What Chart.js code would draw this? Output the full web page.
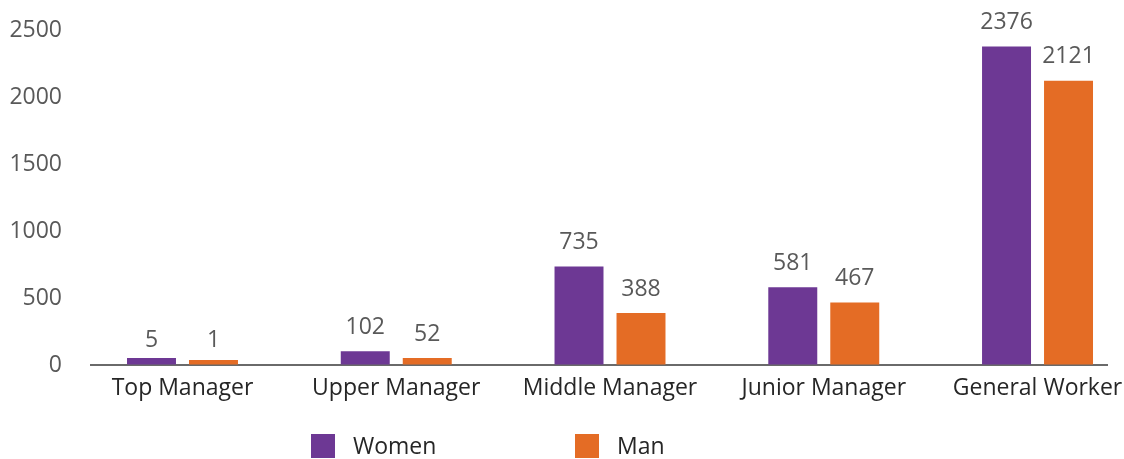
<!DOCTYPE html>
<html>
<head>
<meta charset="utf-8">
<script src="https://cdn.jsdelivr.net/npm/chart.js@4.4.1/dist/chart.umd.min.js"></script>
<style>
  html, body { margin: 0; padding: 0; background: #ffffff; }
  #wrap { width: 1124px; height: 459px; position: relative; }
</style>
</head>
<body>
<div id="wrap"><canvas id="c"></canvas></div>
<script>
const categories = ['Top Manager', 'Upper Manager', 'Middle Manager', 'Junior Manager', 'General Worker'];
const women = [5, 102, 735, 581, 2376];
const man = [1, 52, 388, 467, 2121];
const seriesNames = ['Women', 'Man'];
const yTicks = [0, 500, 1000, 1500, 2000, 2500];

const FONT = "'Open Sans', sans-serif";
const COLORS = ['#6D3894', '#E46C25'];

const valueLabels = {
  id: 'valueLabels',
  afterDatasetsDraw(chart) {
    const ctx = chart.ctx;
    const yScale = chart.scales.y;
    ctx.save();
    ctx.font = "23px " + FONT;
    ctx.fillStyle = '#595959';
    ctx.textAlign = 'center';
    ctx.textBaseline = 'middle';
    chart.data.datasets.forEach((ds, di) => {
      const meta = chart.getDatasetMeta(di);
      meta.data.forEach((el, i) => {
        const v = ds.data[i].y;
        ctx.fillText(String(v), el.x, yScale.getPixelForValue(v) - 24);
      });
    });
    ctx.restore();
  }
};

const customLegend = {
  id: 'customLegend',
  afterDraw(chart, args, opts) {
    const ctx = chart.ctx;
    ctx.save();
    ctx.font = "23px " + FONT;
    ctx.textBaseline = 'middle';
    ctx.textAlign = 'left';
    chart.data.datasets.forEach((ds, i) => {
      const x = opts.startX + i * opts.step;
      ctx.fillStyle = ds.backgroundColor;
      ctx.fillRect(x, opts.top, opts.box, opts.box);
      ctx.fillStyle = '#262626';
      ctx.fillText(ds.label, x + opts.box + opts.gap, opts.top + opts.box / 2 + 1);
    });
    ctx.restore();
  }
};

const seriesData = [women, man];

new Chart(document.getElementById('c'), {
  type: 'bar',
  data: {
    datasets: seriesData.map((arr, s) => ({
      label: seriesNames[s],
      data: arr.map((v, i) => ({ x: i, y: v })),
      backgroundColor: COLORS[s],
      borderWidth: 0,
      minBarLength: s === 0 ? 7 : 5,
      categoryPercentage: 0.58,
      barPercentage: 0.79
    }))
  },
  options: {
    responsive: true,
    maintainAspectRatio: false,
    animation: false,
    layout: { padding: { top: 30, right: 17, bottom: 0, left: 0 } },
    plugins: {
      legend: { display: false },
      tooltip: { enabled: false },
      customLegend: { startX: 311, step: 264, top: 434, box: 24, gap: 18 }
    },
    scales: {
      x: {
        type: 'linear',
        bounds: 'data',
        offset: false,
        min: -0.428,
        max: 4.325,
        grid: { display: false, drawTicks: false, offset: false },
        border: { display: true, color: '#6a6a6a', width: 2 },
        afterBuildTicks(scale) {
          scale.ticks = categories.map((_, i) => ({ value: i }));
        },
        afterFit(scale) {
          scale.height = 94;
          scale.paddingLeft = 0;
          scale.paddingRight = 0;
        },
        ticks: {
          autoSkip: false,
          maxRotation: 0,
          padding: 10,
          color: '#262626',
          font: { family: FONT, size: 23 },
          callback: (v) => categories[v]
        }
      },
      y: {
        bounds: 'data',
        min: 0,
        max: 2500,
        grid: { display: true, drawOnChartArea: false, drawTicks: true, tickLength: 29, color: 'rgba(0,0,0,0)' },
        border: { display: false },
        afterBuildTicks(scale) {
          scale.ticks = yTicks.map(v => ({ value: v }));
        },
        afterFit(scale) { scale.width = 91; },
        ticks: {
          padding: 0,
          color: '#595959',
          font: { family: FONT, size: 23 },
          callback: (v) => String(v)
        }
      }
    }
  },
  plugins: [valueLabels, customLegend]
});
</script>
</body>
</html>
